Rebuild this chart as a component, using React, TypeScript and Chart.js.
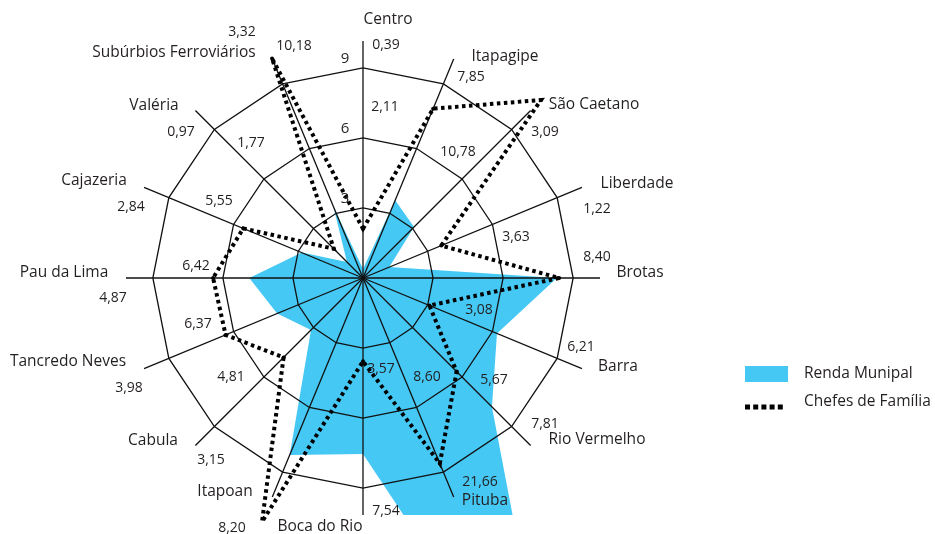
import React, { useEffect, useRef } from 'react';
import { Chart, registerables } from 'chart.js';

Chart.register(...registerables);

// ---------- data ----------
const CATEGORIES = [
  'Centro', 'Itapagipe', 'São Caetano', 'Liberdade', 'Brotas', 'Barra',
  'Rio Vermelho', 'Pituba', 'Boca do Rio', 'Itapoan', 'Cabula',
  'Tancredo Neves', 'Pau da Lima', 'Cajazeria', 'Valéria', 'Subúrbios Ferroviários',
];
const SERIES_NAMES = ['Renda Munipal', 'Chefes de Família'];
const RENDA = [0.39, 3.6, 3.09, 1.22, 8.3, 6.21, 7.81, 21.66, 7.54, 8.2, 3.15, 3.98, 4.87, 2.84, 0.97, 3.32];
const CHEFES = [2.11, 7.85, 10.78, 3.63, 8.4, 3.08, 5.67, 8.6, 3.57, 11.3, 4.81, 6.37, 6.42, 5.55, 1.77, 10.18];
const RENDA_LABELS = ['0,39', null, '3,09', '1,22', null, '6,21', '7,81', '21,66', '7,54', '8,20', '3,15', '3,98', '4,87', '2,84', '0,97', '3,32'];
const CHEFES_LABELS = ['2,11', '7,85', '10,78', '3,63', '8,40', '3,08', '5,67', '8,60', '3,57', null, '4,81', '6,37', '6,42', '5,55', '1,77', '10,18'];
const RING_TICKS = [3, 6, 9];
const SCALE_MAX = 10.15;

// ---------- layout (text offsets from the radar centre, px) ----------
const NAME_OFFSETS: [number, number][] = [
  [25, -258], [142, -221], [231, -173], [274, -94], [277, -5], [255, 89],
  [234, 162], [122, 223], [-43, 249], [-138, 214], [-210, 163],
  [-295, 84], [-299, -5], [-269, -97], [-209, -172], [-189, -225],
];
const RENDA_LABEL_OFFSETS: ([number, number] | null)[] = [
  [23, -233], null, [182, -146], [234, -69], null, [218, 69],
  [182, 146], [117, 204], [23, 233], [-131, 250], [-152, 182],
  [-234, 110], [-250, 20], [-232, -71], [-182, -146], [-121, -246],
];
const CHEFES_LABEL_OFFSETS: ([number, number] | null)[] = [
  [22, -171], [108, -201], [95, -126], [153, -41], [234, -21], [116, 32],
  [131, 102], [64, 99], [18, 91], null, [-132, 99],
  [-165, 46], [-167, -12], [-144, -77], [-112, -135], [-69, -232],
];
const TICK_OFFSET: [number, number] = [-18, -9];

const BLUE = '#45C8F4';
const INK = '#231F20';
const FONT = "'Open Sans', 'Noto Sans', sans-serif";

const overlayPlugin = {
  id: 'overlay',
  afterDatasetDraw(chart: any, args: any) {
    if (args.index !== 0) return;
    const s = chart.scales.r;
    const ctx = chart.ctx;
    const n = CATEGORIES.length;
    ctx.save();
    ctx.strokeStyle = '#111';
    ctx.lineWidth = 1.3;
    ctx.setLineDash([]);
    for (const t of RING_TICKS) {
      ctx.beginPath();
      for (let i = 0; i < n; i++) {
        const p = s.getPointPositionForValue(i, t);
        if (i === 0) ctx.moveTo(p.x, p.y); else ctx.lineTo(p.x, p.y);
      }
      ctx.closePath();
      ctx.stroke();
    }
    for (let i = 0; i < n; i++) {
      const p = s.getPointPositionForValue(i, s.max);
      ctx.beginPath();
      ctx.moveTo(s.xCenter, s.yCenter);
      ctx.lineTo(p.x, p.y);
      ctx.stroke();
    }
    ctx.restore();
  },
  afterDraw(chart: any) {
    const s = chart.scales.r;
    const ctx = chart.ctx;
    const cx = s.xCenter;
    const cy = s.yCenter;
    ctx.save();
    ctx.fillStyle = INK;
    ctx.textAlign = 'center';
    ctx.textBaseline = 'middle';
    // category names
    ctx.font = `15.5px ${FONT}`;
    CATEGORIES.forEach((name, i) => {
      const o = NAME_OFFSETS[i];
      ctx.fillText(name, cx + o[0], cy + o[1]);
    });
    // value labels
    ctx.font = `14px ${FONT}`;
    RENDA_LABELS.forEach((lab, i) => {
      const o = RENDA_LABEL_OFFSETS[i];
      if (lab && o) ctx.fillText(lab, cx + o[0], cy + o[1]);
    });
    CHEFES_LABELS.forEach((lab, i) => {
      const o = CHEFES_LABEL_OFFSETS[i];
      if (lab && o) ctx.fillText(lab, cx + o[0], cy + o[1]);
    });
    // ring tick labels
    ctx.font = `15px ${FONT}`;
    RING_TICKS.forEach((t) => {
      const p = s.getPointPositionForValue(0, t);
      ctx.fillText(String(t), p.x + TICK_OFFSET[0], p.y + TICK_OFFSET[1]);
    });
    // legend
    const lx = 745;
    const ly1 = 374;
    const ly2 = 405;
    ctx.fillStyle = BLUE;
    ctx.fillRect(lx, ly1 - 8, 43, 16);
    ctx.strokeStyle = '#000';
    ctx.lineWidth = 5;
    ctx.setLineDash([5, 3.2]);
    ctx.beginPath();
    ctx.moveTo(lx, ly2 + 2);
    ctx.lineTo(lx + 41, ly2 + 2);
    ctx.stroke();
    ctx.setLineDash([]);
    ctx.fillStyle = INK;
    ctx.textAlign = 'left';
    ctx.font = `15.5px ${FONT}`;
    ctx.fillText(SERIES_NAMES[0], 804, ly1);
    ctx.fillText(SERIES_NAMES[1], 804, ly2 - 3);
    ctx.restore();
  },
};

export default function App() {
  const ref = useRef<HTMLCanvasElement>(null);
  useEffect(() => {
    if (!ref.current) return;
    const chart = new Chart(ref.current, {
      type: 'radar',
      data: {
        labels: CATEGORIES,
        datasets: [
          {
            label: SERIES_NAMES[0],
            data: RENDA,
            backgroundColor: BLUE,
            borderColor: 'rgba(0,0,0,0)',
            borderWidth: 0,
            pointRadius: 0,
            fill: 'start',
            order: 2,
            clip: { left: false, top: false, right: false, bottom: 1 } as any,
          },
          {
            label: SERIES_NAMES[1],
            data: CHEFES,
            borderColor: '#000',
            borderWidth: 4,
            borderDash: [3.5, 3.5],
            borderCapStyle: 'butt',
            borderJoinStyle: 'miter',
            backgroundColor: '#000',
            pointRadius: 2,
            pointBorderWidth: 0,
            pointBackgroundColor: '#000',
            fill: false,
            order: 1,
            clip: false as any,
          },
        ],
      },
      options: {
        responsive: false,
        animation: false,
        events: [],
        layout: { padding: { left: 126, right: 335, top: 41, bottom: 19 } },
        elements: { line: { tension: 0 } },
        plugins: { legend: { display: false }, tooltip: { enabled: false } },
        scales: {
          r: {
            min: 0,
            max: SCALE_MAX,
            startAngle: 0,
            ticks: { display: false, stepSize: 3 },
            grid: { display: false },
            angleLines: { display: false },
            pointLabels: { display: false },
          },
        },
      },
      plugins: [overlayPlugin],
    });
    return () => chart.destroy();
  }, []);
  return (
    <div style={{ position: 'absolute', left: 0, top: 0, width: 935, height: 534, background: '#fff' }}>
      <canvas ref={ref} width={935} height={534} style={{ display: 'block' }} />
    </div>
  );
}
